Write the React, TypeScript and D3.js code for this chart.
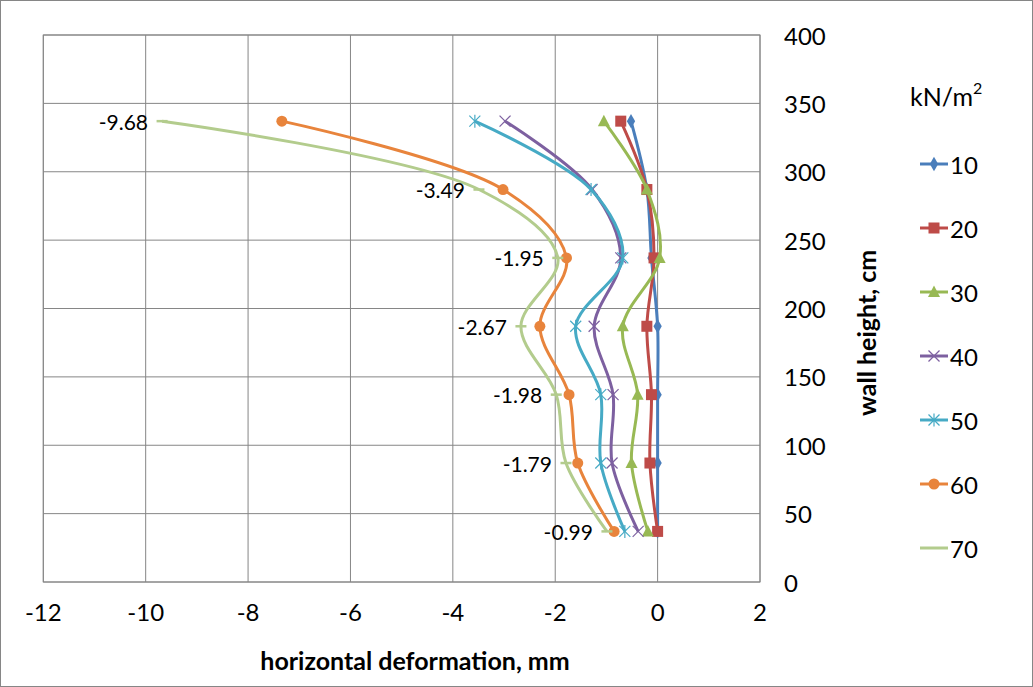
import React from "react";
import * as d3 from "d3";

const heights = [337, 287, 237, 187, 137, 87, 37];
const s10 = [-0.52, -0.21, -0.12, 0.0, 0.0, 0.0, 0.0];
const s20 = [-0.72, -0.21, -0.07, -0.21, -0.12, -0.15, 0.0];
const s30 = [-1.05, -0.21, 0.04, -0.68, -0.39, -0.51, -0.19];
const s40 = [-2.98, -1.28, -0.72, -1.24, -0.87, -0.89, -0.38];
const s50 = [-3.57, -1.3, -0.68, -1.6, -1.11, -1.11, -0.64];
const s60 = [-7.34, -3.02, -1.78, -2.3, -1.73, -1.56, -0.85];
const s70 = [-9.68, -3.49, -1.95, -2.67, -1.98, -1.79, -0.99];
const seriesNames = ["10", "20", "30", "40", "50", "60", "70"];
const xTicks = [-12, -10, -8, -6, -4, -2, 0, 2];
const yTicks = [0, 50, 100, 150, 200, 250, 300, 350, 400];

const seriesValues = [s10, s20, s30, s40, s50, s60, s70];
const colors = ["#4A7EBB", "#BE4B48", "#98B954", "#7D60A0", "#46AAC5", "#E8843C", "#B3CC8D"];
const markers = ["diamond", "square", "triangle", "x", "star", "circle", "dash"];

const W = 1033;
const H = 687;
const left = 43.3;
const right = 760;
const top = 35;
const bottom = 582;
const FONT = "Lato, Carlito, Calibri, sans-serif";

function Marker({ type, x, y, color }: { type: string; x: number; y: number; color: string }) {
  switch (type) {
    case "diamond":
      return <path d={d3.symbol(d3.symbolDiamond, 60)()!} transform={`translate(${x},${y})`} fill={color} />;
    case "square":
      return <rect x={x - 5.5} y={y - 5.5} width={11} height={11} fill={color} />;
    case "triangle":
      return <path d={`M${x},${y - 6.5}L${x + 6},${y + 5}L${x - 6},${y + 5}Z`} fill={color} />;
    case "x":
      return (
        <g stroke={color} strokeWidth={1.2}>
          <line x1={x - 5.5} y1={y - 5.5} x2={x + 5.5} y2={y + 5.5} />
          <line x1={x - 5.5} y1={y + 5.5} x2={x + 5.5} y2={y - 5.5} />
        </g>
      );
    case "star":
      return (
        <g stroke={color} strokeWidth={1.2}>
          <line x1={x - 5.5} y1={y - 5.5} x2={x + 5.5} y2={y + 5.5} />
          <line x1={x - 5.5} y1={y + 5.5} x2={x + 5.5} y2={y - 5.5} />
          <line x1={x} y1={y - 6.5} x2={x} y2={y + 6.5} />
        </g>
      );
    case "circle":
      return <circle cx={x} cy={y} r={5.5} fill={color} />;
    case "dash":
      return <line x1={x - 5.5} y1={y} x2={x + 5.5} y2={y} stroke={color} strokeWidth={2.5} />;
    default:
      return null;
  }
}

export default function App() {
  const xs = d3.scaleLinear().domain([-12, 2]).range([left, right]);
  const ys = d3.scaleLinear().domain([0, 400]).range([bottom, top]);
  const line = d3
    .line<[number, number]>()
    .x((d) => xs(d[0]))
    .y((d) => ys(d[1]))
    .curve(d3.curveCatmullRom.alpha(0.5));

  return (
    <svg
      width={W}
      height={H}
      style={{ position: "absolute", left: 0, top: 0, background: "#fff" }}
      fontFamily={FONT}
    >
      <rect x={0.5} y={0.5} width={W - 1} height={H - 1} fill="#fff" stroke="#868686" />
      {xTicks.map((t) => (
        <line key={"gx" + t} x1={xs(t)} x2={xs(t)} y1={top} y2={bottom} stroke="#868686" strokeWidth={1} />
      ))}
      {yTicks.map((t) => (
        <line key={"gy" + t} x1={left} x2={right} y1={ys(t)} y2={ys(t)} stroke="#868686" strokeWidth={1} />
      ))}
      <rect x={left} y={top} width={right - left} height={bottom - top} fill="none" stroke="#868686" />
      {xTicks.map((t) => (
        <text key={"tx" + t} x={xs(t)} y={611} textAnchor="middle" dominantBaseline="central" fontSize={24} fill="#000">
          {t}
        </text>
      ))}
      {yTicks.map((t) => (
        <text key={"ty" + t} x={784} y={ys(t)} textAnchor="start" dominantBaseline="central" fontSize={24} fill="#000">
          {t}
        </text>
      ))}
      <text x={415} y={660} textAnchor="middle" dominantBaseline="central" fontSize={25} fontWeight="bold" fill="#000">
        horizontal deformation, mm
      </text>
      <text
        transform={`translate(866,333) rotate(-90)`}
        textAnchor="middle"
        dominantBaseline="central"
        fontSize={25}
        fontWeight="bold"
        fill="#000"
      >
        wall height, cm
      </text>
      {seriesValues.map((vals, i) => {
        const pts: [number, number][] = vals.map((v, j) => [v, heights[j]]);
        return (
          <g key={"s" + i}>
            <path d={line(pts)!} fill="none" stroke={colors[i]} strokeWidth={3} strokeLinejoin="round" />
            {pts.map((p, j) => (
              <Marker key={j} type={markers[i]} x={xs(p[0])} y={ys(p[1])} color={colors[i]} />
            ))}
          </g>
        );
      })}
      {s70.map((v, j) => (
        <text
          key={"dl" + j}
          x={xs(v) - 14}
          y={ys(heights[j])}
          textAnchor="end"
          dominantBaseline="central"
          fontSize={21}
          fill="#000"
        >
          {v.toFixed(2)}
        </text>
      ))}
      <text x={910} y={96} dominantBaseline="central" fontSize={25} fill="#000">
        kN/m<tspan fontSize={16} dy={-9}>2</tspan>
      </text>
      {seriesNames.map((n, i) => {
        const ly = 164 + i * 64;
        return (
          <g key={"lg" + n}>
            <line x1={920} x2={948} y1={ly} y2={ly} stroke={colors[i]} strokeWidth={3} />
            {markers[i] !== "dash" && <Marker type={markers[i]} x={934} y={ly} color={colors[i]} />}
            <text x={950} y={ly} dominantBaseline="central" fontSize={24} fill="#000">
              {n}
            </text>
          </g>
        );
      })}
    </svg>
  );
}
